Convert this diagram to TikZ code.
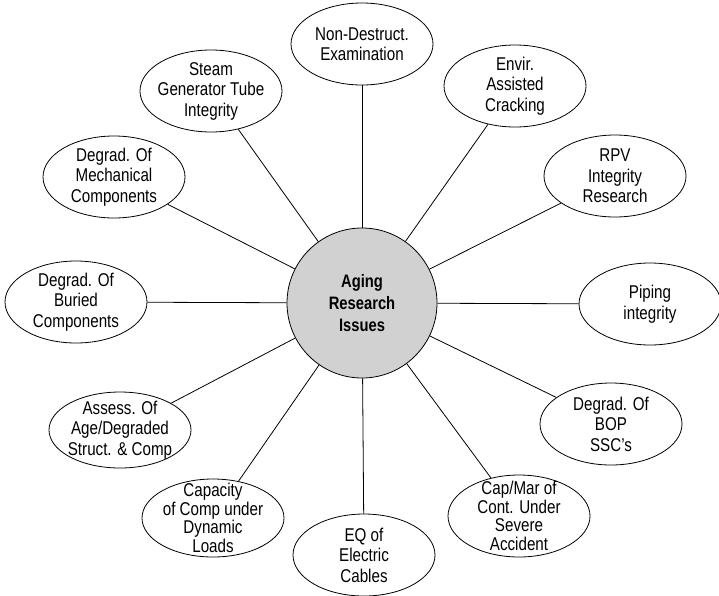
\documentclass[tikz,border=0pt]{standalone}
\usepackage{fontspec}
\setmainfont{Liberation Sans}[FakeStretch=0.82]
\usetikzlibrary{shapes.geometric}

\tikzset{
  issue/.style={ellipse, draw, minimum width=142pt, minimum height=82pt, inner sep=0pt},
  issuetext/.style={align=center, inner sep=0pt, font=\fontsize{18.5}{20.5}\selectfont},
  hub/.style={circle, draw, fill=black!18, minimum size=150pt, inner sep=0pt,
    align=center, font=\bfseries\fontsize{18}{22}\selectfont}
}

\begin{document}
\begin{tikzpicture}[x=1pt, y=-1pt, line width=0.8pt]
    \useasboundingbox (0,0) rectangle (719,595);

    \node[hub] at (362,303) (hub) {Aging\\Research\\Issues};

    \node[issue] at (362,44) (nde) {};
    \node[issue] at (515,86) (eac) {};
    \node[issue] at (615,176) (rpv) {};
    \node[issue] at (650,304) (pipe) {};
    \node[issue] at (611,424) (bop) {};
    \node[issue] at (519,516) (cmc) {};
    \node[issue] at (364,555) (eq) {};
    \node[issue, minimum height=78pt] at (213,518) (cap) {};
    \node[issue, minimum height=76pt] at (120,430) (ass) {};
    \node[issue] at (76,302) (bur) {};
    \node[issue] at (114,177) (mec) {};
    \node[issue] at (211,91) (sgt) {};

    \node[issuetext] at (nde) (nde-t) {Non-Destruct.\\Examination};
    \node[issuetext] at (eac) (eac-t) {Envir.\\Assisted\\Cracking};
    \node[issuetext] at (rpv) (rpv-t) {RPV\\Integrity\\Research};
    \node[issuetext] at (pipe) (pipe-t) {Piping\\integrity};
    \node[issuetext] at (bop) (bop-t) {Degrad. Of\\BOP\\SSC’s};
    \node[issuetext, font=\fontsize{18.5}{18.5}\selectfont] at (cmc) (cmc-t) {Cap/Mar of\\Cont. Under\\Severe\\Accident};
    \node[issuetext] at (eq) (eq-t) {EQ of\\Electric\\Cables};
    \node[issuetext, font=\fontsize{18.5}{18.5}\selectfont] at (cap) (cap-t) {Capacity\\of Comp under\\Dynamic\\Loads};
    \node[issuetext] at (ass) (ass-t) {Assess. Of\\Age/Degraded\\Struct. \& Comp};
    \node[issuetext] at (bur) (bur-t) {Degrad. Of\\Buried\\Components};
    \node[issuetext] at (mec) (mec-t) {Degrad. Of\\Mechanical\\Components};
    \node[issuetext] at (sgt) (sgt-t) {Steam\\Generator Tube\\Integrity};

    \draw (hub) -- (nde);
    \draw (hub) -- (eac);
    \draw (hub) -- (rpv);
    \draw (hub) -- (pipe);
    \draw (hub) -- (bop);
    \draw (hub) -- (cmc);
    \draw (hub) -- (eq);
    \draw (hub) -- (cap);
    \draw (hub) -- (ass);
    \draw (hub) -- (bur);
    \draw (hub) -- (mec);
    \draw (hub) -- (sgt);

\end{tikzpicture}
\end{document}
